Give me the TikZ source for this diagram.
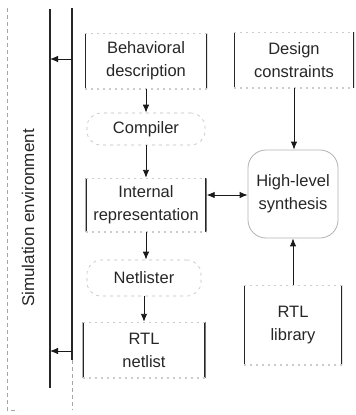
\documentclass[tikz,border=0pt]{standalone}
\usepackage{fontspec}
\setmainfont{Liberation Sans}
\usetikzlibrary{arrows.meta}
\tikzset{
  txt/.style={font=\fontsize{16.5}{23}\selectfont, align=center, text=black!85, inner sep=0pt},
  sidebox/.style={txt, rectangle, draw=none,
    path picture={
      \draw[line width=2.4pt, black!85]
        (path picture bounding box.north west) -- (path picture bounding box.south west)
        (path picture bounding box.north east) -- (path picture bounding box.south east);
      \draw[line width=1.2pt, gray!40, dash pattern=on 2pt off 4pt]
        (path picture bounding box.north west) -- (path picture bounding box.north east)
        (path picture bounding box.south west) -- (path picture bounding box.south east);
    }},
  stadium/.style={txt, rectangle, rounded corners=14pt, draw=gray!50, line width=0.6pt, dash pattern=on 3pt off 4pt},
  roundbox/.style={txt, rectangle, rounded corners=18pt, draw=gray!60, line width=0.8pt},
  arr/.style={draw=black!90, line width=0.9pt, -{Latex[length=8pt,width=6.5pt]}},
  darr/.style={draw=black!90, line width=0.9pt, {Latex[length=8pt,width=6.5pt]}-{Latex[length=8pt,width=6.5pt]}},
  vline/.style={draw=black!85, line width=1.2pt},
  dline/.style={draw=gray!70, line width=1pt, dash pattern=on 4pt off 3pt},
}
\begin{document}
\begin{tikzpicture}[x=1pt,y=-1pt]
\useasboundingbox (0,0) rectangle (356,415);

% left frame lines
\coordinate (ot) at (7,8);
\coordinate (ob) at (7,410);
\coordinate (obr) at (18,410);
\draw[dline] (ot) -- (ob) -- (obr);
\coordinate (st) at (50,9);
\coordinate (sb) at (50,388);
\draw[vline] (st) -- (sb);
\coordinate (bt) at (72,8);
\coordinate (bm) at (72,360);
\coordinate (bb) at (72,410);
\draw[vline] (bt) -- (bm);
\draw[dline] (bm) -- (bb);

\node[font=\fontsize{17}{20}\selectfont, text=black!85, rotate=90, inner sep=0pt] (sim) at (28,218) {Simulation environment};

\coordinate (a1s) at (72,59);
\coordinate (a1e) at (50,59);
\draw[arr] (a1s) -- (a1e);
\coordinate (a2s) at (72,351);
\coordinate (a2e) at (50,351);
\draw[arr] (a2s) -- (a2e);

% nodes
\node[sidebox, minimum width=122pt, minimum height=56pt] (beh) at (146,61) {Behavioral\\description};
\node[sidebox, minimum width=120pt, minimum height=56pt] (dc) at (294,60) {Design\\constraints};
\node[stadium, minimum width=118pt, minimum height=32pt] (comp) at (146,129) {Compiler};
\node[sidebox, minimum width=121pt, minimum height=54pt] (int) at (146,205) {Internal\\representation};
\node[roundbox, minimum width=90pt, minimum height=88pt] (hls) at (293,194) {High-level\\synthesis};
\node[stadium, minimum width=114pt, minimum height=36pt] (netl) at (144,278) {Netlister};
\node[sidebox, minimum width=123pt, minimum height=56pt] (rtln) at (144,350) {RTL\\netlist};
\node[sidebox, minimum width=98pt, minimum height=80pt] (lib) at (293,325) {RTL\\library};

% connectors
\draw[arr] (beh.south) -- (comp.north);
\draw[arr] (comp.south) -- (int.north);
\draw[arr] (int.south) -- (int.south |- netl.north);
\draw[arr] (netl.south) -- (rtln.north);
\draw[arr] (dc.south) -- (dc.south |- hls.north);
\draw[arr] (lib.north) -- (lib.north |- hls.south);
\draw[darr] (hls.west |- 0,195) -- (int.east |- 0,195);
\end{tikzpicture}
\end{document}
